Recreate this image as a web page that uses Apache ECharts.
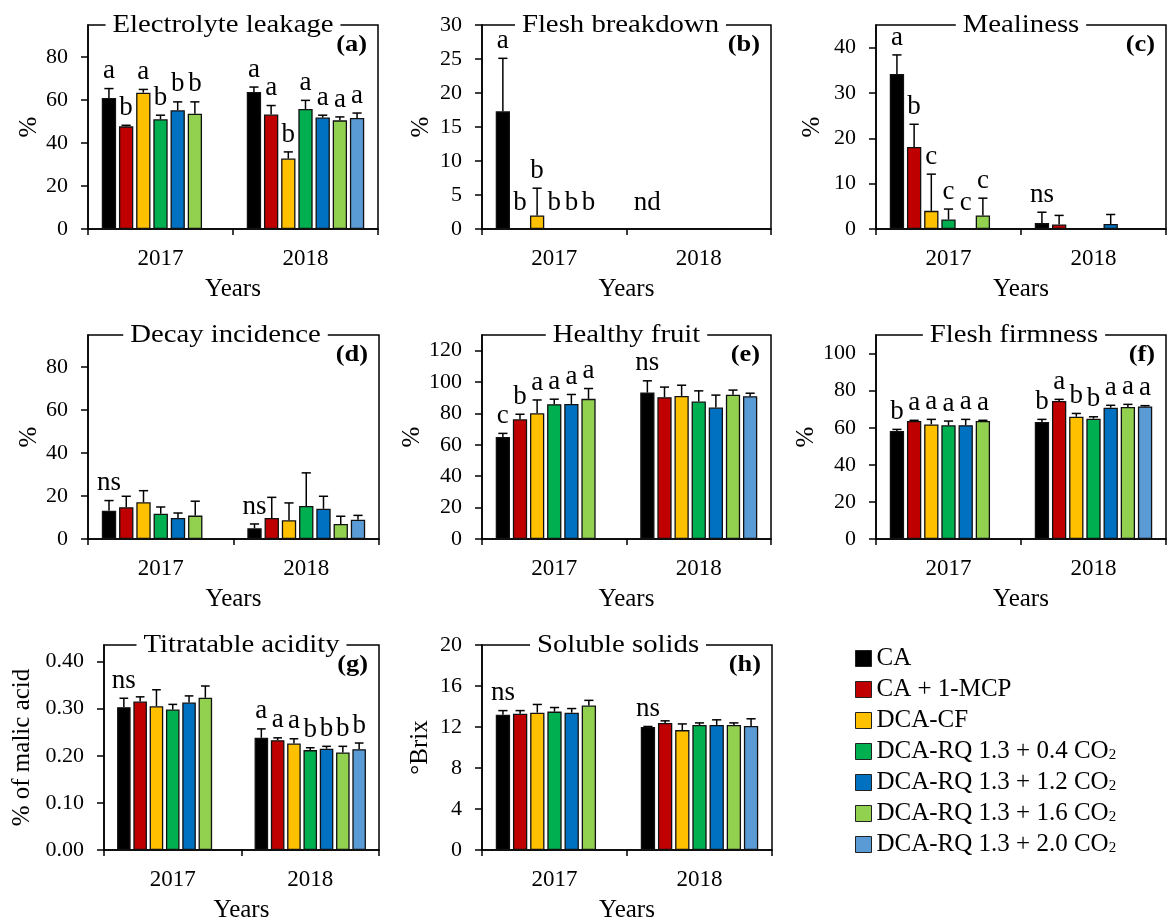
<!DOCTYPE html>
<html>
<head>
<meta charset="utf-8">
<script src="https://cdn.jsdelivr.net/npm/echarts@6/dist/echarts.min.js"></script>
<style>
  html, body { margin: 0; padding: 0; background: #ffffff; }
  #chart { width: 1168px; height: 922px; }
</style>
</head>
<body>
<div id="chart"></div>
<script>
// ---- categories and treatments ----
const years = ['2017', '2018'];
const treatments = [
  'CA',
  'CA + 1-MCP',
  'DCA-CF',
  'DCA-RQ 1.3 + 0.4 CO2',
  'DCA-RQ 1.3 + 1.2 CO2',
  'DCA-RQ 1.3 + 1.6 CO2',
  'DCA-RQ 1.3 + 2.0 CO2'
];

// ---- values: [year][treatment]; null = treatment not stored that year ----
const leakageMean = [[61.0, 47.8, 63.5, 51.1, 55.3, 53.7, null], [63.8, 53.3, 32.8, 55.9, 51.9, 50.6, 51.7]];
const leakageErr  = [[4.4, 0.5, 1.5, 1.9, 3.9, 5.5, null], [2.3, 4.2, 3.1, 4.0, 1.1, 1.6, 2.3]];
const leakageLetters = [['a', 'b', 'a', 'b', 'b', 'b', ''], ['a', 'a', 'b', 'a', 'a', 'a', 'a']];
const leakageTicks = [0, 20, 40, 60, 80];

const breakdownMean = [[17.3, 0, 2.0, 0, 0, 0, null], [0, 0, 0, 0, 0, 0, 0]];
const breakdownErr  = [[7.8, 0, 4.0, 0, 0, 0, null], [0, 0, 0, 0, 0, 0, 0]];
const breakdownLetters = [['a', 'b', 'b', 'b', 'b', 'b', ''], ['nd', '', '', '', '', '', '']];
const breakdownTicks = [0, 5, 10, 15, 20, 25, 30];

const mealinessMean = [[34.2, 18.1, 4.0, 2.1, 0, 3.0, null], [1.3, 1.0, 0, 0, 1.1, 0, 0]];
const mealinessErr  = [[4.2, 5.0, 8.1, 2.3, 0, 3.8, null], [2.4, 2.0, 0, 0, 2.1, 0, 0]];
const mealinessLetters = [['a', 'b', 'c', 'c', 'c', 'c', ''], ['ns', '', '', '', '', '', '']];
const mealinessTicks = [0, 10, 20, 30, 40];

const decayMean = [[13.2, 14.8, 17.1, 11.8, 9.8, 10.9, null], [5.0, 9.8, 8.7, 15.4, 14.1, 7.0, 9.0]];
const decayErr  = [[4.7, 5.1, 5.4, 3.1, 2.3, 6.7, null], [2.0, 9.6, 8.1, 15.4, 5.8, 3.6, 2.0]];
const decayLetters = [['ns', '', '', '', '', '', ''], ['ns', '', '', '', '', '', '']];
const decayTicks = [0, 20, 40, 60, 80];

const healthyMean = [[65.0, 76.3, 80.1, 85.9, 86.1, 89.3, null], [93.3, 90.4, 91.2, 87.6, 83.8, 91.9, 91.0]];
const healthyErr  = [[2.3, 3.2, 8.5, 3.2, 6.0, 6.6, null], [7.5, 6.4, 6.8, 6.8, 7.9, 3.0, 1.9]];
const healthyLetters = [['c', 'b', 'a', 'a', 'a', 'a', ''], ['ns', '', '', '', '', '', '']];
const healthyTicks = [0, 20, 40, 60, 80, 100, 120];

const firmnessMean = [[58.2, 63.6, 61.8, 61.3, 61.4, 63.6, null], [63.1, 74.4, 65.9, 64.9, 70.8, 71.2, 71.5]];
const firmnessErr  = [[0.9, 0.4, 2.7, 2.3, 3.1, 0.4, null], [1.4, 0.9, 1.8, 1.0, 1.3, 1.4, 0.4]];
const firmnessLetters = [['b', 'a', 'a', 'a', 'a', 'a', ''], ['b', 'a', 'b', 'b', 'a', 'a', 'a']];
const firmnessTicks = [0, 20, 40, 60, 80, 100];

const acidityMean = [[0.303, 0.315, 0.305, 0.298, 0.313, 0.323, null], [0.238, 0.233, 0.226, 0.212, 0.215, 0.207, 0.214]];
const acidityErr  = [[0.019, 0.010, 0.035, 0.011, 0.014, 0.025, null], [0.019, 0.005, 0.010, 0.005, 0.005, 0.013, 0.013]];
const acidityLetters = [['ns', '', '', '', '', '', ''], ['a', 'a', 'a', 'b', 'b', 'b', 'b']];
const acidityTicks = [0, 0.1, 0.2, 0.3, 0.4];

const solidsMean = [[13.2, 13.3, 13.4, 13.5, 13.4, 14.1, null], [12.0, 12.4, 11.7, 12.2, 12.2, 12.2, 12.1]];
const solidsErr  = [[0.4, 0.3, 0.8, 0.4, 0.4, 0.5, null], [0.05, 0.2, 0.6, 0.2, 0.5, 0.2, 0.7]];
const solidsLetters = [['ns', '', '', '', '', '', ''], ['ns', '', '', '', '', '', '']];
const solidsTicks = [0, 4, 8, 12, 16, 20];

// ---- panel definitions ----
const panels = [
  { title: 'Electrolyte leakage', tag: '(a)', unit: '%', mean: leakageMean, err: leakageErr, letters: leakageLetters, ticks: leakageTicks, max: 95, decimals: 0 },
  { title: 'Flesh breakdown', tag: '(b)', unit: '%', mean: breakdownMean, err: breakdownErr, letters: breakdownLetters, ticks: breakdownTicks, max: 30, decimals: 0 },
  { title: 'Mealiness', tag: '(c)', unit: '%', mean: mealinessMean, err: mealinessErr, letters: mealinessLetters, ticks: mealinessTicks, max: 45, decimals: 0 },
  { title: 'Decay incidence', tag: '(d)', unit: '%', mean: decayMean, err: decayErr, letters: decayLetters, ticks: decayTicks, max: 95, decimals: 0 },
  { title: 'Healthy fruit', tag: '(e)', unit: '%', mean: healthyMean, err: healthyErr, letters: healthyLetters, ticks: healthyTicks, max: 130, decimals: 0 },
  { title: 'Flesh firmness', tag: '(f)', unit: '%', mean: firmnessMean, err: firmnessErr, letters: firmnessLetters, ticks: firmnessTicks, max: 110, decimals: 0 },
  { title: 'Titratable acidity', tag: '(g)', unit: '% of malic acid', mean: acidityMean, err: acidityErr, letters: acidityLetters, ticks: acidityTicks, max: 0.435, decimals: 2 },
  { title: 'Soluble solids', tag: '(h)', unit: '°Brix', mean: solidsMean, err: solidsErr, letters: solidsLetters, ticks: solidsTicks, max: 20, decimals: 0 }
];

// ---- page layout (pixels) ----
const layout = [
  { left: 88,  top: 25,  width: 290, height: 204, nameGap: 46, titleShift: -10 },
  { left: 482, top: 25,  width: 289, height: 204, nameGap: 48, titleShift: -6 },
  { left: 876, top: 25,  width: 290, height: 204, nameGap: 51, titleShift: 0 },
  { left: 88,  top: 335, width: 291, height: 204, nameGap: 46, titleShift: -8 },
  { left: 482, top: 335, width: 289, height: 204, nameGap: 48, titleShift: 0 },
  { left: 876, top: 335, width: 290, height: 204, nameGap: 51, titleShift: -7 },
  { left: 104, top: 645, width: 275, height: 205, nameGap: 69, titleShift: 0 },
  { left: 482, top: 645, width: 290, height: 205, nameGap: 49, titleShift: -9 }
];

const colors = ['#000000', '#c00000', '#ffc000', '#00b050', '#0070c0', '#92d050', '#5b9bd5'];
const FONT = '"Liberation Serif", "Times New Roman", serif';
const INK = '#000000';
const BAR_GAP = 0.2;        // gap between bars, share of bar width
const CAT_GAP = 0.19;       // gap between year groups, share of band width

const chart = echarts.init(document.getElementById('chart'), null, { renderer: 'canvas' });

const grids = [], xAxes = [], yAxes = [], series = [], graphics = [];

panels.forEach((p, i) => {
  const L = layout[i];
  grids.push({
    left: L.left, top: L.top, width: L.width, height: L.height,
    show: true, borderColor: INK, borderWidth: 1.5, backgroundColor: 'transparent',
    containLabel: false, outerBoundsMode: 'none'
  });

  xAxes.push({
    type: 'category', gridIndex: i, data: years, boundaryGap: true,
    axisLine: { show: true, lineStyle: { color: INK, width: 1.5 } },
    axisTick: { show: true, length: 6, interval: 0, lineStyle: { color: INK, width: 1.5 } },
    axisLabel: { color: INK, fontFamily: FONT, fontSize: 23, margin: 18 },
    splitLine: { show: false },
    name: 'Years', nameLocation: 'middle', nameGap: 48,
    nameTextStyle: { color: INK, fontFamily: FONT, fontSize: 25 }
  });

  const step = p.ticks[1] - p.ticks[0];
  yAxes.push({
    type: 'value', gridIndex: i, min: 0, max: p.max, interval: step,
    axisLine: { show: true, lineStyle: { color: INK, width: 1.5 } },
    axisTick: { show: true, length: 7, customValues: p.ticks, lineStyle: { color: INK, width: 1.5 } },
    axisLabel: {
      color: INK, fontFamily: FONT, fontSize: 22, margin: 20,
      customValues: p.ticks,
      formatter: v => Number(v).toFixed(p.decimals)
    },
    splitLine: { show: false },
    name: p.unit, nameLocation: 'middle', nameGap: L.nameGap,
    nameTextStyle: { color: INK, fontFamily: FONT, fontSize: 25 }
  });

  // bars, one series per treatment
  treatments.forEach((name, t) => {
    series.push({
      type: 'bar', name: name, xAxisIndex: i, yAxisIndex: i,
      data: years.map((y, k) => p.mean[k][t]),
      barGap: (BAR_GAP * 100) + '%', barCategoryGap: (CAT_GAP * 100) + '%',
      itemStyle: { color: colors[t], borderColor: '#111111', borderWidth: 1.3 },
      silent: true, animation: false
    });
  });

  // upper error bars and significance letters
  const recs = [];
  const letterList = [];
  years.forEach((y, k) => {
    treatments.forEach((name, t) => {
      if (p.mean[k][t] === null) return;
      recs.push([k, t, p.mean[k][t], p.err[k][t]]);
      letterList.push(p.letters[k][t]);
    });
  });
  const n = treatments.length;
  series.push({
    type: 'custom', name: 'err' + i, xAxisIndex: i, yAxisIndex: i, z: 5,
    silent: true, animation: false, clip: false,
    data: recs,
    renderItem: (params, api) => {
      const k = api.value(0), t = api.value(1), v = api.value(2), e = api.value(3);
      const band = api.size([1, 0])[0];
      const bw = band * (1 - CAT_GAP) / (n + (n - 1) * BAR_GAP);
      const total = n * bw + (n - 1) * bw * BAR_GAP;
      const cx = api.coord([k, 0])[0] - total / 2 + t * bw * (1 + BAR_GAP) + bw / 2;
      const yBar = api.coord([k, v])[1];
      const yTop = api.coord([k, v + e])[1];
      const cap = bw * 0.32;
      const children = [];
      if (e > 0) {
        children.push({ type: 'line', shape: { x1: cx, y1: yBar, x2: cx, y2: yTop }, style: { stroke: INK, lineWidth: 1.5 } });
        children.push({ type: 'line', shape: { x1: cx - cap, y1: yTop, x2: cx + cap, y2: yTop }, style: { stroke: INK, lineWidth: 1.5 } });
      }
      const letter = letterList[params.dataIndex];
      if (letter) {
        // letters over empty bars sit a little higher above the baseline
        const lift = (v + e === 0) ? 13 : 4;
        children.push({
          type: 'text', x: cx, y: yTop - lift,
          style: { text: letter, fill: INK, font: '27px ' + FONT, align: 'center', verticalAlign: 'bottom' }
        });
      }
      return { type: 'group', children: children };
    }
  });

  // panel title on the top border and panel tag
  graphics.push({
    type: 'text', z: 100,
    x: L.left + L.width / 2 + L.titleShift, y: L.top,
    scaleX: 1.15,
    style: {
      text: p.title, fill: INK, font: '25px ' + FONT,
      align: 'center', verticalAlign: 'middle',
      backgroundColor: '#ffffff', padding: [0, 6, 0, 6]
    }
  });
  graphics.push({
    type: 'text', z: 100,
    x: L.left + L.width - 11, y: L.top + 20,
    scaleX: 1.1,
    style: { text: p.tag, fill: INK, font: 'bold 24px ' + FONT, align: 'right', verticalAlign: 'middle' }
  });
});

const option = {
  backgroundColor: '#ffffff',
  animation: false,
  textStyle: { fontFamily: FONT },
  grid: grids,
  xAxis: xAxes,
  yAxis: yAxes,
  series: series,
  graphic: graphics,
  legend: {
    data: treatments,
    orient: 'vertical', left: 850, top: 641, padding: 5,
    icon: 'rect', itemWidth: 16, itemHeight: 16, itemGap: 6,
    selectedMode: false,
    itemStyle: { borderColor: '#222222', borderWidth: 1 },
    formatter: name => name.replace(/CO2$/, 'CO{sub|2}'),
    textStyle: {
      color: INK, fontFamily: FONT, fontSize: 25, lineHeight: 24,
      rich: { sub: { color: INK, fontFamily: FONT, fontSize: 15, lineHeight: 15, padding: [8, 0, 0, 0] } }
    }
  }
};

chart.setOption(option);
</script>
</body>
</html>
